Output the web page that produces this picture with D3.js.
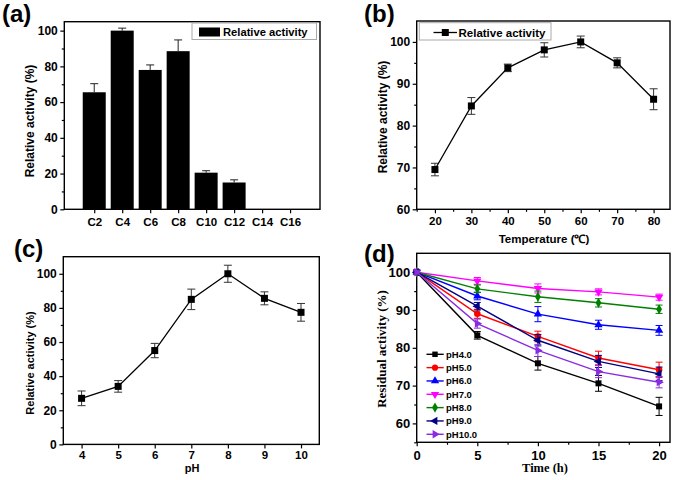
<!DOCTYPE html>
<html>
<head>
<meta charset="utf-8">
<script src="https://cdn.jsdelivr.net/npm/d3@7"></script>
<style>
  body { margin: 0; background: #fff; }
  svg text { font-family: "Liberation Sans", Arial, sans-serif; font-weight: bold; }
</style>
</head>
<body>
<div id="chart"></div>
<script>
// (a) chain length
const chainCats = ["C2", "C4", "C6", "C8", "C10", "C12", "C14", "C16"];
const chainAct = [65.5, 100, 78, 88.5, 20.5, 15, 0, 0];
const chainErr = [4.8, 1.4, 2.8, 6.3, 1.1, 1.5, 0, 0];
// (b) temperature
const temps = [20, 30, 40, 50, 60, 70, 80];
const tempAct = [69.5, 84.7, 93.8, 98.1, 100, 95, 86.3];
const tempErr = [1.5, 2, 0.9, 1.7, 1.4, 1.2, 2.5];
// (c) pH
const phs = [4, 5, 6, 7, 8, 9, 10];
const phAct = [27, 34, 55, 85, 100, 85.6, 77.4];
const phErr = [4.3, 3.4, 4.2, 6, 5, 3.8, 5.2];
// (d) pH stability
const times = [0, 5, 10, 15, 20];
const stabNames = ["pH4.0", "pH5.0", "pH6.0", "pH7.0", "pH8.0", "pH9.0", "pH10.0"];
const stab4 = [100, 83.3, 75.9, 70.6, 64.5];
const stab5 = [100, 89, 83, 77.3, 74.2];
const stab6 = [100, 93.7, 88.9, 86.1, 84.6];
const stab7 = [100, 97.7, 95.7, 94.8, 93.4];
const stab8 = [100, 95.6, 93.5, 91.9, 90.2];
const stab9 = [100, 91, 82, 76.4, 73.1];
const stab10 = [100, 86.4, 79.3, 73.7, 70.9];
const err4 = [0.5, 1, 1.8, 2.1, 2.4];
const err5 = [0.5, 1.2, 1.4, 1.8, 2];
const err6 = [0.5, 1, 2, 1.2, 1.3];
const err7 = [0.5, 0.9, 1.2, 0.8, 0.8];
const err8 = [0.5, 1, 1.5, 1.1, 1.1];
const err9 = [0.5, 1, 1.5, 1.6, 1.8];
const err10 = [0.5, 1.2, 1.6, 1.6, 1.5];

const stabVals = [stab4, stab5, stab6, stab7, stab8, stab9, stab10];
const stabErrs = [err4, err5, err6, err7, err8, err9, err10];
const stabColors = ["#000000", "#ff0000", "#0000ff", "#ff00ff", "#008000", "#000080", "#8a2be2"];
// symbol type + rotation
const stabSyms = [
  [d3.symbolSquare, 0], [d3.symbolCircle, 0], [d3.symbolTriangle, 0], [d3.symbolTriangle, 180],
  [d3.symbolDiamond, 0], [d3.symbolTriangle, -90], [d3.symbolTriangle, 90]
];

const svg = d3.select("#chart").append("svg")
  .attr("width", 675).attr("height", 480);

// frame + axes for one panel
function panel(p) {
  const g = svg.append("g");
  const x = p.x, y = p.y;
  g.append("rect")
    .attr("x", p.l).attr("y", p.t)
    .attr("width", p.r - p.l).attr("height", p.b - p.t)
    .attr("fill", "none").attr("stroke", "#000").attr("stroke-width", 1.4);

  if (p.yMinor) {
    g.append("g").attr("transform", `translate(${p.l},0)`)
      .call(d3.axisLeft(y).tickValues(p.yMinor).tickSize(2.5).tickFormat(""))
      .call(a => a.select(".domain").remove());
  }
  const ya = g.append("g").attr("transform", `translate(${p.l},0)`)
    .call(d3.axisLeft(y).tickValues(p.yTicks).tickSize(4).tickPadding(2.5));
  ya.select(".domain").remove();
  ya.selectAll("text").style("font-size", p.tickFont + "px");

  if (p.xMinor) {
    g.append("g").attr("transform", `translate(0,${p.b})`)
      .call(d3.axisBottom(x).tickValues(p.xMinor).tickSize(2.5).tickFormat(""))
      .call(a => a.select(".domain").remove());
  }
  const xa = g.append("g").attr("transform", `translate(0,${p.b})`)
    .call(d3.axisBottom(x).tickValues(p.xTicks).tickSize(4).tickPadding(p.xPad || 4)
      .tickFormat(p.xFormat || d3.format("d")));
  xa.select(".domain").remove();
  xa.selectAll("text").style("font-size", (p.xTickFont || p.tickFont) + "px");
  g.selectAll(".tick line").attr("stroke-width", 1.2);

  g.append("text")
    .attr("transform", `translate(${p.yLabX},${p.yLabY}) rotate(-90)`)
    .attr("text-anchor", "middle")
    .style("font-size", p.yLabFont + "px")
    .style("font-family", p.serif ? "'Liberation Serif', 'Times New Roman', serif" : null)
    .text(p.yLabel);
  if (p.xLabel) {
    g.append("text")
      .attr("x", p.xLabX).attr("y", p.xLabY)
      .attr("text-anchor", "middle")
      .style("font-size", p.xLabFont + "px")
      .style("font-family", p.serif ? "'Liberation Serif', 'Times New Roman', serif" : null)
      .text(p.xLabel);
  }
  g.append("text")
    .attr("x", p.tagX).attr("y", p.tagY)
    .style("font-size", "24px")
    .text(p.tag);
  return g;
}

function errBars(g, xs, ys, es, x, y, color, capW, upOnly) {
  xs.forEach((xv, i) => {
    if (es[i] <= 0) return;
    const cx = x(xv);
    const y1 = y(ys[i] + es[i]);
    const y0 = upOnly ? y(ys[i]) : y(ys[i] - es[i]);
    g.append("line").attr("x1", cx).attr("x2", cx).attr("y1", y0).attr("y2", y1)
      .attr("stroke", color).attr("stroke-width", 1);
    g.append("line").attr("x1", cx - capW / 2).attr("x2", cx + capW / 2).attr("y1", y1).attr("y2", y1)
      .attr("stroke", color).attr("stroke-width", 1);
    if (!upOnly) {
      g.append("line").attr("x1", cx - capW / 2).attr("x2", cx + capW / 2).attr("y1", y0).attr("y2", y0)
        .attr("stroke", color).attr("stroke-width", 1);
    }
  });
}

// ---------- (a) ----------
{
  const l = 64.3, r = 320, t = 21.7, b = 209.3;
  const x = d3.scaleLinear().domain([-0.07, 9.07]).range([l, r]);
  const y = d3.scaleLinear().domain([0, 105]).range([b, t]);
  const idx = chainCats.map((c, i) => i + 1);
  const g = panel({
    l, r, t, b, x, y,
    yTicks: [0, 20, 40, 60, 80, 100], yMinor: [10, 30, 50, 70, 90],
    xTicks: idx, xFormat: (d) => chainCats[d - 1], xPad: 5,
    tickFont: 12, xTickFont: 11.5,
    yLabel: "Relative activity (%)", yLabX: 34, yLabY: 121, yLabFont: 12,
    tag: "(a)", tagX: 2, tagY: 22
  });
  const bw = 23;
  errBars(g, idx, chainAct, chainErr, x, y, "#222", 8, true);
  g.selectAll(".bar").data(idx).enter().append("rect")
    .attr("x", d => x(d) - bw / 2)
    .attr("y", d => y(chainAct[d - 1]))
    .attr("width", bw)
    .attr("height", d => y(0) - y(chainAct[d - 1]))
    .attr("fill", "#000");
  // legend
  const lg = g.append("g");
  lg.append("rect").attr("x", 192).attr("y", 23).attr("width", 124.5).attr("height", 16.5)
    .attr("fill", "#fff").attr("stroke", "#aaa").attr("stroke-width", 1);
  lg.append("rect").attr("x", 199).attr("y", 27.5).attr("width", 21).attr("height", 9).attr("fill", "#000");
  lg.append("text").attr("x", 223).attr("y", 35.8).style("font-size", "11.2px").text("Relative activity");
}

// ---------- (b) ----------
{
  const l = 416.7, r = 670, t = 21, b = 209.3;
  const x = d3.scaleLinear().domain([15, 84.5]).range([l, r]);
  const y = d3.scaleLinear().domain([60, 105]).range([b, t]);
  const g = panel({
    l, r, t, b, x, y,
    yTicks: [60, 70, 80, 90, 100], yMinor: [65, 75, 85, 95],
    xTicks: temps, xMinor: [15, 25, 35, 45, 55, 65, 75], xPad: 4,
    tickFont: 12, xTickFont: 11.5,
    yLabel: "Relative activity (%)", yLabX: 387, yLabY: 117, yLabFont: 12,
    xLabel: "Temperature (℃)", xLabX: 544, xLabY: 243, xLabFont: 11.5,
    tag: "(b)", tagX: 364, tagY: 22
  });
  errBars(g, temps, tempAct, tempErr, x, y, "#333", 8, false);
  g.append("path").datum(temps)
    .attr("d", d3.line().x(d => x(d)).y((d, i) => y(tempAct[i])))
    .attr("fill", "none").attr("stroke", "#000").attr("stroke-width", 1.3);
  g.selectAll(".pt").data(temps).enter().append("rect")
    .attr("x", d => x(d) - 3.5).attr("y", (d, i) => y(tempAct[i]) - 3.5)
    .attr("width", 7).attr("height", 7).attr("fill", "#000");
  const lg = g.append("g");
  lg.append("rect").attr("x", 419.3).attr("y", 22.7).attr("width", 131.7).attr("height", 17.3)
    .attr("fill", "#fff").attr("stroke", "#aaa").attr("stroke-width", 1);
  lg.append("line").attr("x1", 433.5).attr("x2", 457).attr("y1", 32.5).attr("y2", 32.5)
    .attr("stroke", "#000").attr("stroke-width", 1.3);
  lg.append("rect").attr("x", 441.8).attr("y", 29).attr("width", 7).attr("height", 7).attr("fill", "#000");
  lg.append("text").attr("x", 458.5).attr("y", 36.5).style("font-size", "11.5px").text("Relative activity");
}

// ---------- (c) ----------
{
  const l = 63.3, r = 319.3, t = 256.7, b = 444.4;
  const x = d3.scaleLinear().domain([3.5, 10.5]).range([l, r]);
  const y = d3.scaleLinear().domain([0, 110]).range([b, t]);
  const g = panel({
    l, r, t, b, x, y,
    yTicks: [0, 20, 40, 60, 80, 100], yMinor: [10, 30, 50, 70, 90],
    xTicks: phs, xPad: 2,
    tickFont: 12, xTickFont: 11.5,
    yLabel: "Relative activity (%)", yLabX: 34, yLabY: 363, yLabFont: 11,
    xLabel: "pH", xLabX: 192, xLabY: 472, xLabFont: 11,
    tag: "(c)", tagX: 14, tagY: 257
  });
  errBars(g, phs, phAct, phErr, x, y, "#333", 8, false);
  g.append("path").datum(phs)
    .attr("d", d3.line().x(d => x(d)).y((d, i) => y(phAct[i])))
    .attr("fill", "none").attr("stroke", "#000").attr("stroke-width", 1.3);
  g.selectAll(".pt").data(phs).enter().append("rect")
    .attr("x", d => x(d) - 3.5).attr("y", (d, i) => y(phAct[i]) - 3.5)
    .attr("width", 7).attr("height", 7).attr("fill", "#000");
}

// ---------- (d) ----------
{
  const l = 416.7, r = 670, t = 253.3, b = 442.3;
  const x = d3.scaleLinear().domain([0, 20.9]).range([l, r]);
  const y = d3.scaleLinear().domain([55, 105]).range([b, t]);
  const g = panel({
    l, r, t, b, x, y,
    yTicks: [60, 70, 80, 90, 100], yMinor: [55, 65, 75, 85, 95],
    xTicks: times, xMinor: [2.5, 7.5, 12.5, 17.5], xPad: 4,
    tickFont: 13, xTickFont: 13,
    yLabel: "Residual activity (%)", yLabX: 386, yLabY: 349, yLabFont: 13, serif: true,
    xLabel: "Time (h)", xLabX: 545, xLabY: 472, xLabFont: 12.5,
    tag: "(d)", tagX: 364, tagY: 262
  });
  const line = d3.line().x(d => x(d[0])).y(d => y(d[1]));
  stabVals.forEach((vals, k) => {
    const col = stabColors[k];
    errBars(g, times, vals, stabErrs[k], x, y, col, 7, false);
    g.append("path").datum(times.map((tv, i) => [tv, vals[i]]))
      .attr("d", line).attr("fill", "none").attr("stroke", col).attr("stroke-width", 1.4);
    const [sym, rot] = stabSyms[k];
    const sz = sym === d3.symbolSquare ? 36 : sym === d3.symbolDiamond ? 30 : sym === d3.symbolCircle ? 34 : 30;
    g.selectAll(".m" + k).data(times).enter().append("path")
      .attr("d", d3.symbol().type(sym).size(sz))
      .attr("transform", (d, i) => `translate(${x(d)},${y(vals[i])}) rotate(${rot})`)
      .attr("fill", col);
  });
  // legend
  stabNames.forEach((name, k) => {
    const ly = 354.3 + k * 13.33;
    const col = stabColors[k];
    const [sym, rot] = stabSyms[k];
    g.append("line").attr("x1", 426.5).attr("x2", 443.7).attr("y1", ly).attr("y2", ly)
      .attr("stroke", col).attr("stroke-width", 1.4);
    g.append("path").attr("d", d3.symbol().type(sym).size(30))
      .attr("transform", `translate(435,${ly}) rotate(${rot})`).attr("fill", col);
    g.append("text").attr("x", 446).attr("y", ly + 3.4).style("font-size", "9.5px").text(name);
  });
}
</script>
</body>
</html>
